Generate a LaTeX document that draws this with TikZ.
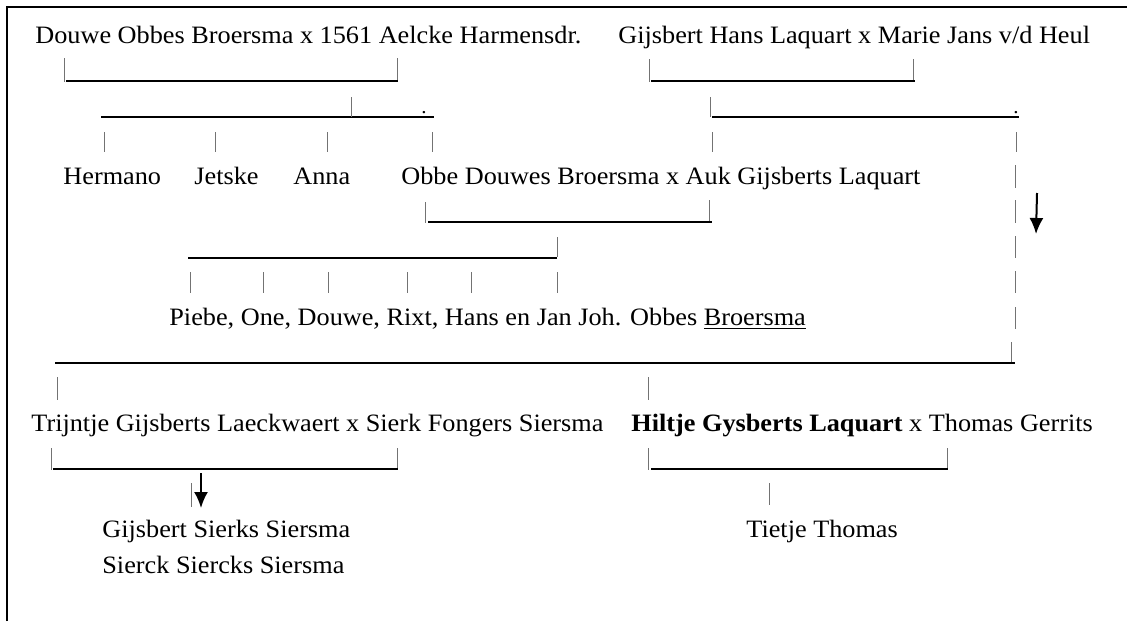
\documentclass[tikz,border=0pt]{standalone}
\usepackage{fontspec}
\setmainfont{Liberation Serif}[FakeStretch=1.05]
\usetikzlibrary{arrows.meta}

\newcommand\famfont{\fontsize{12.5}{15}\selectfont}

\tikzset{
  person/.style={anchor=base west, inner sep=0pt, font=\famfont},
  tick/.style={draw=black!55, line width=0.5pt},
  bond/.style={draw=black, line width=1pt},
  frame/.style={draw=black, line width=1.1pt},
  descent/.style={-{Latex[length=8pt,width=7pt]}, line width=1pt}
}

\begin{document}
\begin{tikzpicture}[x=0.5pt, y=-0.5pt]
      \useasboundingbox (0,0) rectangle (1127,621);
      \fill[white] (0,0) rectangle (1127,621);
      \draw[frame] (7,621) -- (7,7) -- (1127,7);

      % generation 1
      \node[person] (douwe) at (35,43) {Douwe Obbes Broersma x 1561 Aelcke Harmensdr.};
      \node[person] (gijsbert) at (618,43) {Gijsbert Hans Laquart x Marie Jans v/d Heul};
      \draw[tick] (64,58) -- (64,82) (397,58) -- (397,82);
      \draw[tick] (649,59) -- (649,82) (913,59) -- (913,82);
      \draw[bond] (66,81) -- (398,81);
      \draw[bond] (651,81) -- (915,81);

      % children
      \draw[bond] (101,117) -- (434,117);
      \draw[bond] (712,117) -- (1019,117);
      \draw[tick] (351,97) -- (351,117) (710,97) -- (710,117);
      \node[anchor=base, inner sep=0pt] (dotl) at (424,113) {.};
      \node[anchor=base, inner sep=0pt] (dotr) at (1016,113) {.};
      \foreach \x in {104,215,327,432,712,1016}
        \draw[tick] (\x,132) -- (\x,152);
      \foreach \ya/\yb in {165/188,200/223,236/258,271/293,307/329}
        \draw[tick] (1015,\ya) -- (1015,\yb);
      \draw[tick] (1011,342) -- (1011,363);

      \node[person] (hermano) at (63,184) {Hermano};
      \node[person] (jetske) at (194,184) {Jetske};
      \node[person] (anna) at (293,184) {Anna};
      \node[person] (obbe) at (401,184) {Obbe Douwes Broersma x Auk Gijsberts Laquart};

      \coordinate (sideA) at (1037,193);
      \coordinate (sideB) at (1036,234);
      \draw[descent] (sideA) -- (sideB);

      % generation 3
      \draw[tick] (425,202) -- (425,223) (709.5,200) -- (709.5,222);
      \draw[bond] (428,222) -- (712,222);
      \draw[tick] (557,237) -- (557,257);
      \draw[bond] (188,258) -- (557,258);
      \foreach \x in {190,263,328,407,471,557}
        \draw[tick] (\x,272) -- (\x,293);
      \node[person] (piebe) at (169,325) {Piebe, One, Douwe, Rixt, Hans en Jan Joh. Obbes \underline{Broersma}};

      % daughters of Gijsbert
      \draw[bond] (55,363) -- (1015,363);
      \draw[tick] (57,377) -- (57,400) (648,377) -- (648,400);
      \node[person] (trijntje) at (31,431) {Trijntje Gijsberts Laeckwaert x Sierk Fongers Siersma};
      \node[person] (hiltje) at (631,431) {\textbf{Hiltje Gysberts Laquart} x Thomas Gerrits};
      \draw[tick] (51,448) -- (51,470) (397,448) -- (397,470);
      \draw[tick] (648.5,448) -- (648.5,470) (947,448) -- (947,470);
      \draw[bond] (53,469) -- (398,469);
      \draw[bond] (651,469) -- (948,469);

      \draw[tick] (191,483) -- (191,507);
      \coordinate (downA) at (201,473);
      \coordinate (downB) at (201,508);
      \draw[descent] (downA) -- (downB);
      \draw[tick] (769.5,483) -- (769.5,505);

      \node[person] (sierks) at (102,537) {Gijsbert Sierks Siersma};
      \node[person] (siercks) at (102,573) {Sierck Siercks Siersma};
      \node[person] (tietje) at (746,537) {Tietje Thomas};
    \end{tikzpicture}
\end{document}
